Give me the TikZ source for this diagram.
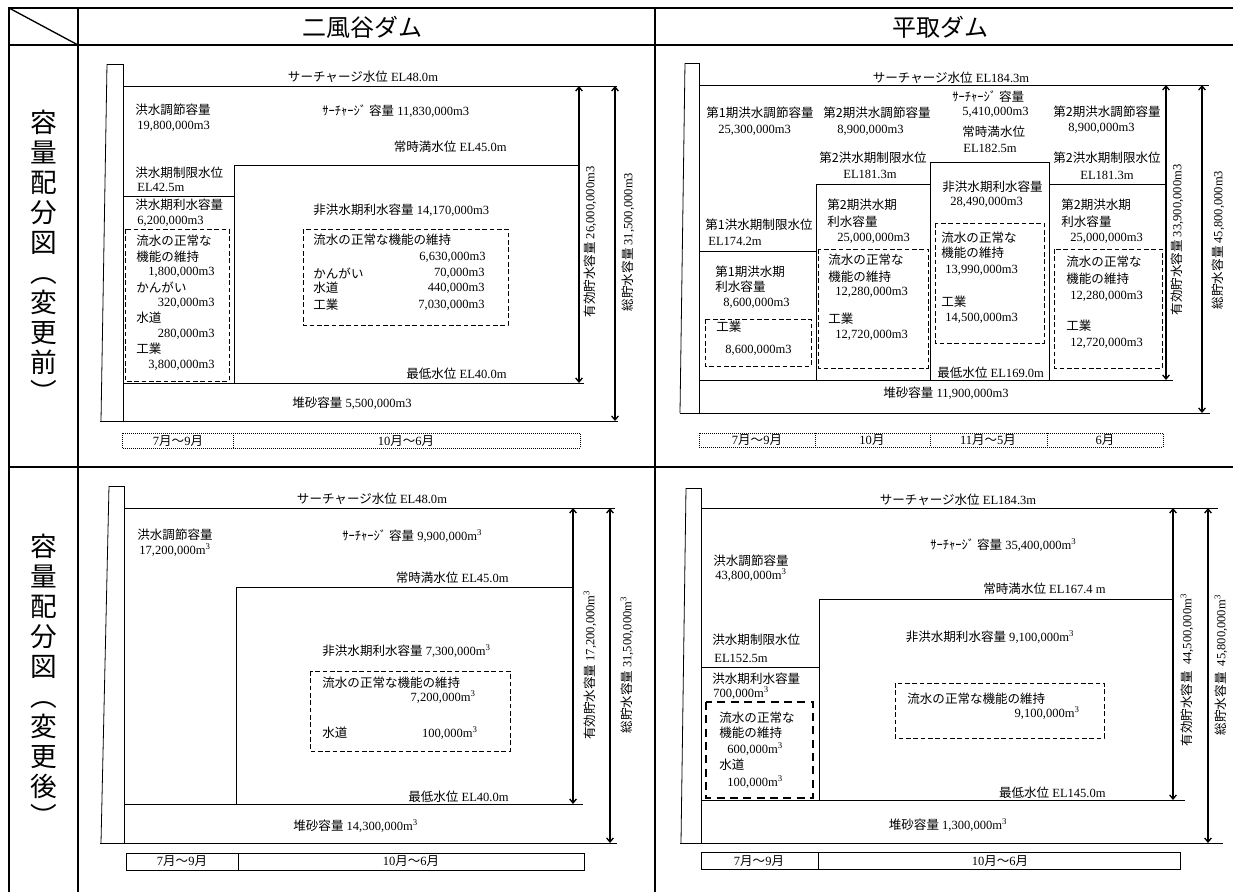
\documentclass[tikz,border=0pt]{standalone}
\usepackage{fontspec}
\setmainfont{Liberation Serif}
\newfontfamily\jpfont{Noto Sans CJK JP}
\newcommand{\jtx}[1]{{\jpfont #1}}
\usetikzlibrary{arrows.meta}

\begin{document}
\begin{tikzpicture}[x = 0.75pt, y = -0.75pt, line width = 0.6pt,
    >={Straight Barb[length = 3pt, width = 5pt]},
    txt/.style = {inner sep = 0pt, font = \fontsize{9.4}{11}\selectfont},
    lt/.style = {txt, anchor = west},
    rt/.style = {txt, anchor = east},
    vtxt/.style = {txt, rotate = 90},
    head/.style = {inner sep = 0pt, font = \jpfont\fontsize{18}{20}\selectfont},
    side/.style = {inner sep = 0pt, align = center, font = \jpfont\fontsize{20}{22.5}\selectfont},
    grid/.style = {line width = 1.5pt},
    dbox/.style = {dash pattern = on 3.5pt off 2pt},
    tbox/.style = {line width = 2pt, dash pattern = on 6pt off 4pt},
    pbox/.style = {line width = 0.5pt, densely dotted},
    dim/.style = {<->, line width = 1pt}]

    \useasboundingbox (0, 0) rectangle (1233, 892);

    % table
    \draw [grid] (1233, 8) -- (9, 8) -- (9, 892);
    \draw [grid] (9, 45) -- (1233, 45);
    \draw [grid] (9, 467) -- (1233, 467);
    \draw [grid] (78, 8) -- (78, 892);
    \draw [grid] (655, 8) -- (655, 892);
    \draw [line width = 1pt] (9, 8) -- (78, 45);

    \node (h1) [head] at (362, 27) {二風谷ダム};
    \node (h2) [head] at (940, 27) {平取ダム};
    \node (s1) [side] at (44, 256) {容\\量\\配\\分\\図\\︵\\変\\更\\前\\︶};
    \node (s2) [side] at (44, 680) {容\\量\\配\\分\\図\\︵\\変\\更\\後\\︶};

    % 二風谷ダム, before
    \draw (107, 64) -- (123, 64) -- (123, 421);
    \draw (107, 64) -- (101, 421);
    \draw (100, 421) -- (618, 421);
    \draw (123, 86) -- (617, 86);
    \draw (234, 383) |- (579, 165);
    \draw (123, 196) -- (234, 196);
    \draw (123, 383) -- (584, 383);
    \draw [dbox] (125, 229) rectangle (229, 381);
    \draw [dbox] (303, 229) rectangle (508, 325);
    \coordinate (aT1) at (579, 86);
    \coordinate (aB1) at (579, 383);
    \coordinate (aT2) at (615, 86);
    \coordinate (aB2) at (615, 421);
    \draw [dim] (aT1) -- (aB1);
    \draw [dim] (aT2) -- (aB2);

    \node (a1) [txt] at (363, 77) {\jtx{サーチャージ水位} EL48.0m};
    \node (a2) [lt] at (135, 110) {\jtx{洪水調節容量}};
    \node (a3) [lt] at (137, 126) {19,800,000m3};
    \node (a4) [lt] at (322, 111) {\jtx{ｻｰﾁｬｰｼﾞ 容量} 11,830,000m3};
    \node (a5) [rt] at (507, 147) {\jtx{常時満水位} EL45.0m};
    \node (a6) [lt] at (135, 173) {\jtx{洪水期制限水位}};
    \node (a7) [lt] at (137, 187) {EL42.5m};
    \node (a8) [lt] at (135, 205) {\jtx{洪水期利水容量}};
    \node (a9) [lt] at (137, 221) {6,200,000m3};
    \node (a10) [lt] at (313, 210) {\jtx{非洪水期利水容量} 14,170,000m3};
    \node (a11) [lt] at (136, 241) {\jtx{流水の正常な}};
    \node (a12) [lt] at (136, 257) {\jtx{機能の維持}};
    \node (a13) [rt] at (215, 272) {1,800,000m3};
    \node (a14) [lt] at (136, 287) {\jtx{かんがい}};
    \node (a15) [rt] at (215, 303) {320,000m3};
    \node (a16) [lt] at (136, 318) {\jtx{水道}};
    \node (a17) [rt] at (215, 334) {280,000m3};
    \node (a18) [lt] at (136, 349) {\jtx{工業}};
    \node (a19) [rt] at (215, 365) {3,800,000m3};
    \node (a20) [lt] at (313, 240) {\jtx{流水の正常な機能の維持}};
    \node (a21) [rt] at (486, 257) {6,630,000m3};
    \node (a22) [lt] at (313, 273) {\jtx{かんがい}};
    \node (a23) [rt] at (485, 273) {70,000m3};
    \node (a24) [lt] at (313, 288) {\jtx{水道}};
    \node (a25) [rt] at (485, 288) {440,000m3};
    \node (a26) [lt] at (313, 305) {\jtx{工業}};
    \node (a27) [rt] at (485, 305) {7,030,000m3};
    \node (a28) [rt] at (507, 374) {\jtx{最低水位} EL40.0m};
    \node (a29) [txt] at (352, 403) {\jtx{堆砂容量} 5,500,000m3};
    \node (a30) [vtxt] at (590, 242) {\jtx{有効貯水容量} 26,000,000m3};
    \node (a31) [vtxt] at (628, 242) {\jtx{総貯水容量} 31,500,000m3};

    \draw [pbox] (122, 433) rectangle (580, 448);
    \draw [pbox] (233, 433) -- (233, 448);
    \node (a32) [txt] at (178, 441) {7\jtx{月～}9\jtx{月}};
    \node (a33) [txt] at (406, 441) {10\jtx{月～}6\jtx{月}};

    % 平取ダム, before
    \draw (685, 63) -- (699, 63) -- (699, 413);
    \draw (685, 63) -- (680, 413);
    \draw (680, 413) -- (1210, 413);
    \draw (699, 85) -- (1209, 85);
    \draw (699, 251) -- (816, 251);
    \draw (816, 380) |- (930, 184);
    \draw (930, 380) |- (1049, 162) -- (1049, 380);
    \draw (1049, 184) -- (1166, 184);
    \draw (699, 380) -- (1173, 380);
    \draw [dbox] (705, 319) rectangle (811, 366);
    \draw [dbox] (818, 249) rectangle (928, 368);
    \draw [dbox] (935, 223) rectangle (1044, 343);
    \draw [dbox] (1054, 249) rectangle (1162, 368);
    \coordinate (bT1) at (1166, 85);
    \coordinate (bB1) at (1166, 380);
    \coordinate (bT2) at (1202, 85);
    \coordinate (bB2) at (1202, 413);
    \draw [dim] (bT1) -- (bB1);
    \draw [dim] (bT2) -- (bB2);

    \node (b1) [txt] at (951, 78) {\jtx{サーチャージ水位} EL184.3m};
    \node (b2) [lt] at (706, 113) {\jtx{第1期洪水調節容量}};
    \node (b3) [lt] at (718, 130) {25,300,000m3};
    \node (b4) [lt] at (823, 113) {\jtx{第2期洪水調節容量}};
    \node (b5) [lt] at (837, 130) {8,900,000m3};
    \node (b6) [lt] at (819, 158) {\jtx{第2洪水期制限水位}};
    \node (b7) [txt] at (870, 174) {EL181.3m};
    \node (b8) [lt] at (705, 225) {\jtx{第1洪水期制限水位}};
    \node (b9) [lt] at (708, 241) {EL174.2m};
    \node (b10) [lt] at (715, 272) {\jtx{第1期洪水期}};
    \node (b11) [lt] at (715, 287) {\jtx{利水容量}};
    \node (b12) [lt] at (723, 303) {8,600,000m3};
    \node (b13) [lt] at (716, 327) {\jtx{工業}};
    \node (b14) [lt] at (725, 350) {8,600,000m3};
    \node (b15) [lt] at (827, 205) {\jtx{第2期洪水期}};
    \node (b16) [lt] at (827, 222) {\jtx{利水容量}};
    \node (b17) [lt] at (837, 238) {25,000,000m3};
    \node (b18) [lt] at (828, 260) {\jtx{流水の正常な}};
    \node (b19) [lt] at (828, 277) {\jtx{機能の維持}};
    \node (b20) [lt] at (835, 292) {12,280,000m3};
    \node (b21) [lt] at (828, 319) {\jtx{工業}};
    \node (b22) [lt] at (835, 335) {12,720,000m3};
    \node (b23) [lt] at (952, 97) {\jtx{ｻｰﾁｬｰｼﾞ 容量}};
    \node (b24) [lt] at (962, 112) {5,410,000m3};
    \node (b25) [lt] at (962, 132) {\jtx{常時満水位}};
    \node (b26) [lt] at (963, 148) {EL182.5m};
    \node (b27) [lt] at (942, 187) {\jtx{非洪水期利水容量}};
    \node (b28) [lt] at (950, 202) {28,490,000m3};
    \node (b29) [lt] at (941, 238) {\jtx{流水の正常な}};
    \node (b30) [lt] at (941, 253) {\jtx{機能の維持}};
    \node (b31) [lt] at (945, 270) {13,990,000m3};
    \node (b32) [lt] at (941, 302) {\jtx{工業}};
    \node (b33) [lt] at (945, 318) {14,500,000m3};
    \node (b34) [lt] at (937, 373) {\jtx{最低水位} EL169.0m};
    \node (b35) [lt] at (1053, 112) {\jtx{第2期洪水調節容量}};
    \node (b36) [lt] at (1068, 128) {8,900,000m3};
    \node (b37) [lt] at (1053, 158) {\jtx{第2洪水期制限水位}};
    \node (b38) [txt] at (1107, 175) {EL181.3m};
    \node (b39) [lt] at (1061, 205) {\jtx{第2期洪水期}};
    \node (b40) [lt] at (1061, 222) {\jtx{利水容量}};
    \node (b41) [lt] at (1070, 238) {25,000,000m3};
    \node (b42) [lt] at (1066, 262) {\jtx{流水の正常な}};
    \node (b43) [lt] at (1066, 279) {\jtx{機能の維持}};
    \node (b44) [lt] at (1070, 296) {12,280,000m3};
    \node (b45) [lt] at (1066, 326) {\jtx{工業}};
    \node (b46) [lt] at (1070, 343) {12,720,000m3};
    \node (b47) [txt] at (946, 393) {\jtx{堆砂容量} 11,900,000m3};
    \node (b48) [vtxt] at (1177, 240) {\jtx{有効貯水容量} 33,900,000m3};
    \node (b49) [vtxt] at (1218, 240) {\jtx{総貯水容量} 45,800,000m3};

    \draw [pbox] (699, 433) rectangle (1163, 447);
    \draw [pbox] (815, 433) -- (815, 447);
    \draw [pbox] (930, 433) -- (930, 447);
    \draw [pbox] (1047, 433) -- (1047, 447);
    \node (b50) [txt] at (757, 440) {7\jtx{月～}9\jtx{月}};
    \node (b51) [txt] at (872, 440) {10\jtx{月}};
    \node (b52) [txt] at (988, 440) {11\jtx{月～}5\jtx{月}};
    \node (b53) [txt] at (1105, 440) {6\jtx{月}};

    % 二風谷ダム, after
    \draw (109, 486) -- (124, 486) -- (124, 843);
    \draw (109, 486) -- (101, 843);
    \draw (100, 843) -- (617, 843);
    \draw (124, 508) -- (615, 508);
    \draw (236, 804) |- (573, 587);
    \draw (124, 804) -- (583, 804);
    \draw [dbox] (310, 671) rectangle (510, 751);
    \coordinate (cT1) at (573, 508);
    \coordinate (cB1) at (573, 804);
    \coordinate (cT2) at (610, 508);
    \coordinate (cB2) at (610, 843);
    \draw [dim] (cT1) -- (cB1);
    \draw [dim] (cT2) -- (cB2);

    \node (c1) [txt] at (372, 499) {\jtx{サーチャージ水位} EL48.0m};
    \node (c2) [lt] at (137, 535) {\jtx{洪水調節容量}};
    \node (c3) [lt] at (139, 550) {17,200,000m\textsuperscript{3}};
    \node (c4) [lt] at (342, 536) {\jtx{ｻｰﾁｬｰｼﾞ 容量} 9,900,000m\textsuperscript{3}};
    \node (c5) [rt] at (509, 578) {\jtx{常時満水位} EL45.0m};
    \node (c6) [lt] at (322, 651) {\jtx{非洪水期利水容量} 7,300,000m\textsuperscript{3}};
    \node (c7) [lt] at (322, 683) {\jtx{流水の正常な機能の維持}};
    \node (c8) [rt] at (476, 697) {7,200,000m\textsuperscript{3}};
    \node (c9) [lt] at (322, 733) {\jtx{水道}};
    \node (c10) [rt] at (478, 733) {100,000m\textsuperscript{3}};
    \node (c11) [rt] at (509, 797) {\jtx{最低水位} EL40.0m};
    \node (c12) [lt] at (293, 826) {\jtx{堆砂容量} 14,300,000m\textsuperscript{3}};
    \node (c13) [vtxt] at (590, 665) {\jtx{有効貯水容量} 17,200,000m\textsuperscript{3}};
    \node (c14) [vtxt] at (627, 665) {\jtx{総貯水容量} 31,500,000m\textsuperscript{3}};

    \draw (126, 853) rectangle (584, 870);
    \draw (238, 853) -- (238, 870);
    \node (c15) [txt] at (182, 861) {7\jtx{月～}9\jtx{月}};
    \node (c16) [txt] at (411, 861) {10\jtx{月～}6\jtx{月}};

    % 平取ダム, after
    \draw (686, 488) -- (701, 488) -- (701, 843);
    \draw (686, 488) -- (681, 843);
    \draw (680, 843) -- (1223, 843);
    \draw (701, 508) -- (1218, 508);
    \draw (819, 800) |- (1173, 599);
    \draw (701, 667) -- (819, 667);
    \draw (701, 800) -- (1185, 800);
    \draw [dbox] (895, 683) rectangle (1104, 738);
    \draw [tbox] (706, 702) rectangle (813, 798);
    \coordinate (dT1) at (1173, 508);
    \coordinate (dB1) at (1173, 800);
    \coordinate (dT2) at (1208, 508);
    \coordinate (dB2) at (1208, 843);
    \draw [dim] (dT1) -- (dB1);
    \draw [dim] (dT2) -- (dB2);

    \node (d1) [txt] at (958, 500) {\jtx{サーチャージ水位} EL184.3m};
    \node (d2) [lt] at (713, 561) {\jtx{洪水調節容量}};
    \node (d3) [lt] at (715, 575) {43,800,000m\textsuperscript{3}};
    \node (d4) [lt] at (930, 545) {\jtx{ｻｰﾁｬｰｼﾞ 容量} 35,400,000m\textsuperscript{3}};
    \node (d5) [rt] at (1106, 589) {\jtx{常時満水位} EL167.4 m};
    \node (d6) [lt] at (712, 640) {\jtx{洪水期制限水位}};
    \node (d7) [lt] at (714, 658) {EL152.5m};
    \node (d8) [lt] at (712, 679) {\jtx{洪水期利水容量}};
    \node (d9) [lt] at (713, 693) {700,000m\textsuperscript{3}};
    \node (d10) [lt] at (719, 718) {\jtx{流水の正常な}};
    \node (d11) [lt] at (719, 733) {\jtx{機能の維持}};
    \node (d12) [lt] at (727, 749) {600,000m\textsuperscript{3}};
    \node (d13) [lt] at (719, 765) {\jtx{水道}};
    \node (d14) [lt] at (727, 782) {100,000m\textsuperscript{3}};
    \node (d15) [txt] at (990, 637) {\jtx{非洪水期利水容量} 9,100,000m\textsuperscript{3}};
    \node (d16) [lt] at (907, 699) {\jtx{流水の正常な機能の維持}};
    \node (d17) [rt] at (1080, 713) {9,100,000m\textsuperscript{3}};
    \node (d18) [rt] at (1106, 793) {\jtx{最低水位} EL145.0m};
    \node (d19) [txt] at (948, 825) {\jtx{堆砂容量} 1,300,000m\textsuperscript{3}};
    \node (d20) [vtxt] at (1187, 670) {\jtx{有効貯水容量}\ \ 44,500,000m\textsuperscript{3}};
    \node (d21) [vtxt] at (1221, 665) {\jtx{総貯水容量}\ \ 45,800,000m\textsuperscript{3}};

    \draw (701, 852) rectangle (1180, 869);
    \draw (818, 852) -- (818, 869);
    \node (d22) [txt] at (759, 861) {7\jtx{月～}9\jtx{月}};
    \node (d23) [txt] at (1000, 861) {10\jtx{月～}6\jtx{月}};

\end{tikzpicture}
\end{document}
